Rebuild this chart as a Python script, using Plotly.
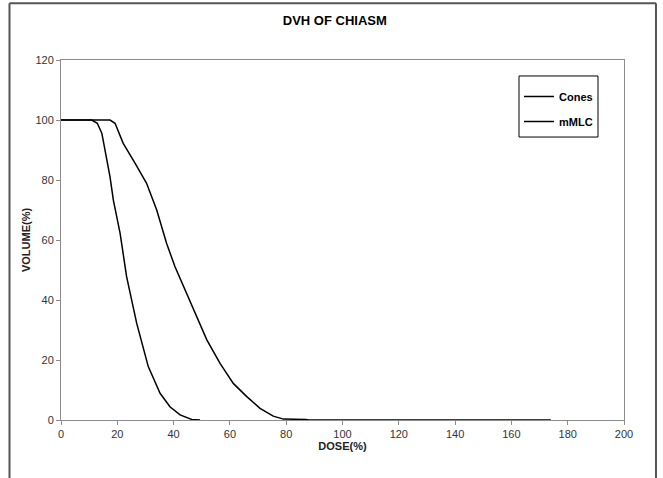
import plotly.graph_objects as go

# Data
cones_dose = [0, 10.9, 12.9, 14.5, 17.4, 18.6, 21.0, 23.3, 26.9, 31.0, 35.2, 38.7, 42.3, 46.4, 49.4]
cones_vol = [100, 100, 98.9, 95.6, 81.1, 73.3, 62.2, 47.8, 32.2, 17.8, 8.9, 4.4, 1.7, 0.2, 0]

mmlc_dose = [0, 17.4, 19.2, 22.1, 26.3, 30.4, 34.0, 37.5, 40.5, 44.7, 48.2, 51.8, 56.5, 61.2,
             66.0, 70.7, 75.4, 79.0, 87.0, 88.0, 174.0]
mmlc_vol = [100, 100, 98.9, 92.2, 85.6, 78.9, 70.0, 58.9, 51.1, 42.2, 34.4, 26.7, 18.9, 12.2,
            7.8, 3.9, 1.3, 0.3, 0.2, 0, 0]

x_ticks = [0, 20, 40, 60, 80, 100, 120, 140, 160, 180, 200]
y_ticks = [0, 20, 40, 60, 80, 100, 120]

FONT = "Arial, Liberation Sans, sans-serif"

fig = go.Figure()
fig.add_trace(go.Scatter(x=cones_dose, y=cones_vol, mode="lines", name="<b>Cones</b>",
                         line=dict(color="black", width=1.5), legendgroup="a"))
fig.add_trace(go.Scatter(x=mmlc_dose, y=mmlc_vol, mode="lines", name="<b>mMLC</b>",
                         line=dict(color="black", width=1.5), legendgroup="b"))

axis_common = dict(showgrid=False, zeroline=False, showline=True, linecolor="#8c8c8c",
                   linewidth=1, ticks="outside", ticklen=4, tickcolor="#8c8c8c",
                   tickfont=dict(family=FONT, size=11, color="#333333"), mirror=True)

fig.update_xaxes(range=[0, 200], tickvals=x_ticks, **axis_common,
                 title=dict(text="<b>DOSE(%)</b>", font=dict(family=FONT, size=11, color="#222"),
                            standoff=3))
fig.update_yaxes(range=[0, 120], tickvals=y_ticks, **axis_common,
                 title=dict(text="<b>VOLUME(%)</b>", font=dict(family=FONT, size=11, color="#222"),
                            standoff=2))

# outer chart frame (left, top, right)
fx0, fx1, fy1, fyb = -0.0915, 1.0568, 1.1575, -0.25
for (x0, y0, x1, y1) in [(fx0, fyb, fx0, fy1), (fx0, fy1, fx1, fy1), (fx1, fy1, fx1, fyb)]:
    fig.add_shape(type="line", xref="paper", yref="paper", x0=x0, y0=y0, x1=x1, y1=y1,
                  line=dict(color="#555555", width=2))

# legend box
fig.add_shape(type="rect", xref="paper", yref="paper", x0=0.8135, x1=0.9538, y0=0.786, y1=0.9556,
              line=dict(color="black", width=1), fillcolor="rgba(0,0,0,0)")

fig.update_layout(
    width=663, height=478,
    margin=dict(l=61, r=39, t=60, b=58),
    paper_bgcolor="white", plot_bgcolor="white",
    title=dict(text="<b>DVH OF CHIASM</b>", x=0.505, xanchor="center", y=0.958, yanchor="middle",
               font=dict(family=FONT, size=13, color="black")),
    legend=dict(x=0.8135, y=0.9389, xanchor="left", yanchor="top",
                borderwidth=0, bgcolor="rgba(0,0,0,0)",
                font=dict(family=FONT, size=11, color="black"),
                tracegroupgap=6, itemwidth=30),
    showlegend=True,
)

fig.write_html("out.html")
